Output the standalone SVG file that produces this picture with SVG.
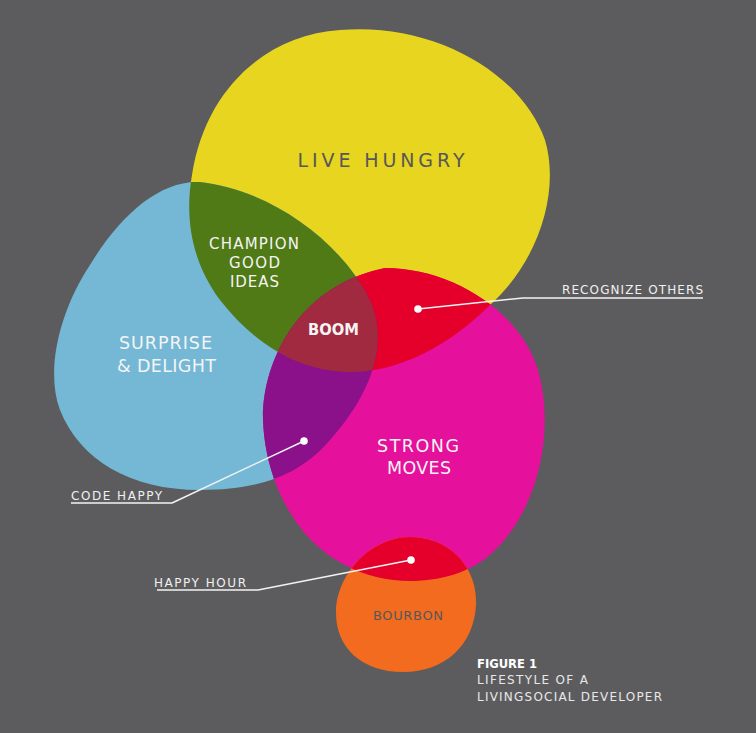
<svg xmlns="http://www.w3.org/2000/svg" width="756" height="733" viewBox="0 0 756 733">
<style>
.t{font-family:"DejaVu Sans","Open Sans",sans-serif;}
.w{fill:#f4f4f4;}
.g{fill:#57575a;}
.lbl{font-size:12px;fill:#f0f0f0;}
.big{font-size:17.5px;}
.ln{fill:none;stroke:#f2f2f2;stroke-width:1.5;stroke-linejoin:round;}
.dot{fill:#ffffff;}
</style>
<defs>
<path id="pY" d="M 340,30 C 430,22 520,70 545,140 C 560,190 540,260 490,305 C 450,345 400,372 350,372 C 300,372 255,345 220,300 C 190,260 185,215 192,175 C 205,90 265,35 340,30 Z"/>
<path id="pB" d="M 200,182 C 270,190 340,240 370,300 C 390,345 370,395 330,440 C 300,475 260,490 200,490 C 130,490 80,460 60,410 C 45,370 60,310 90,265 C 120,215 160,180 200,182 Z"/>
<path id="pM" d="M 385,268 C 450,268 520,310 538,370 C 555,430 540,510 490,555 C 455,585 390,590 345,565 C 295,540 265,480 263,420 C 262,360 300,285 385,268 Z"/>
<path id="pO" d="M 410,537 C 452,537 478,570 476,605 C 474,645 445,672 403,672 C 362,672 336,648 336,613 C 336,575 370,537 410,537 Z"/>
<clipPath id="cY"><use href="#pY"/></clipPath>
<clipPath id="cB"><use href="#pB"/></clipPath>
<clipPath id="cM"><use href="#pM"/></clipPath>
</defs>
<rect width="756" height="733" fill="#5c5c5e"/>

<g id="live-hungry">
<use href="#pY" fill="#e7d51f"/>
<text class="t g" x="381" y="167" font-size="19" text-anchor="middle" textLength="167" lengthAdjust="spacing">LIVE HUNGRY</text>
</g>
<g id="surprise-delight">
<use href="#pB" fill="#74b8d6"/>
</g>
<g id="strong-moves">
<use href="#pM" fill="#e5109b"/>
</g>
<g id="bourbon">
<use href="#pO" fill="#f26b1f"/>
<text class="t g" x="408" y="620" font-size="13" text-anchor="middle" textLength="70" lengthAdjust="spacing">BOURBON</text>
</g>
<g id="champion-good-ideas">
<use href="#pB" fill="#507a16" clip-path="url(#cY)"/>
</g>
<g id="recognize-others-region">
<use href="#pM" fill="#e4002a" clip-path="url(#cY)"/>
</g>
<g id="code-happy-region">
<use href="#pM" fill="#8a1189" clip-path="url(#cB)"/>
</g>
<g id="boom">
<g clip-path="url(#cY)"><use href="#pM" fill="#a12a40" clip-path="url(#cB)"/></g>
<text class="t w" x="333.5" y="335" font-size="15" font-weight="700" text-anchor="middle" textLength="51" lengthAdjust="spacingAndGlyphs">BOOM</text>
</g>
<g id="happy-hour-region">
<use href="#pO" fill="#e4002a" clip-path="url(#cM)"/>
</g>

<g id="region-labels">
<text class="t w" x="254" y="249" font-size="15" text-anchor="middle" textLength="90" lengthAdjust="spacing">CHAMPION</text>
<text class="t w" x="254.5" y="268" font-size="15" text-anchor="middle" textLength="51" lengthAdjust="spacing">GOOD</text>
<text class="t w" x="254.5" y="287" font-size="15" text-anchor="middle" textLength="49" lengthAdjust="spacing">IDEAS</text>
<text class="t w big" x="165.5" y="349" text-anchor="middle" textLength="93" lengthAdjust="spacing">SURPRISE</text>
<text class="t w big" x="166.5" y="372" text-anchor="middle" textLength="99" lengthAdjust="spacing">&amp; DELIGHT</text>
<text class="t w big" x="418" y="452" text-anchor="middle" textLength="82" lengthAdjust="spacing">STRONG</text>
<text class="t w big" x="419" y="474" text-anchor="middle" textLength="64" lengthAdjust="spacing">MOVES</text>
</g>

<g id="connectors">
<polyline class="ln" points="418,309 523,298 703,298"/>
<circle class="dot" cx="418" cy="309" r="3.8"/>
<polyline class="ln" points="304,441 172,503 71,503"/>
<circle class="dot" cx="304" cy="441" r="3.8"/>
<polyline class="ln" points="411,560 258,590 157,590"/>
<circle class="dot" cx="411" cy="560" r="3.8"/>
</g>

<g id="callouts">
<text class="t lbl" x="562" y="294" textLength="141" lengthAdjust="spacing">RECOGNIZE OTHERS</text>
<text class="t lbl" x="71" y="500" textLength="91" lengthAdjust="spacing">CODE HAPPY</text>
<text class="t lbl" x="154" y="587" textLength="92" lengthAdjust="spacing">HAPPY HOUR</text>
</g>

<g id="caption">
<text class="t" x="477" y="668" font-size="13" font-weight="700" fill="#ffffff" textLength="60" lengthAdjust="spacingAndGlyphs">FIGURE 1</text>
<text class="t" x="477" y="684" font-size="12" fill="#e8e8e8" textLength="111" lengthAdjust="spacing">LIFESTYLE OF A</text>
<text class="t" x="477" y="701" font-size="12" fill="#e8e8e8" textLength="185" lengthAdjust="spacing">LIVINGSOCIAL DEVELOPER</text>
</g>
</svg>
